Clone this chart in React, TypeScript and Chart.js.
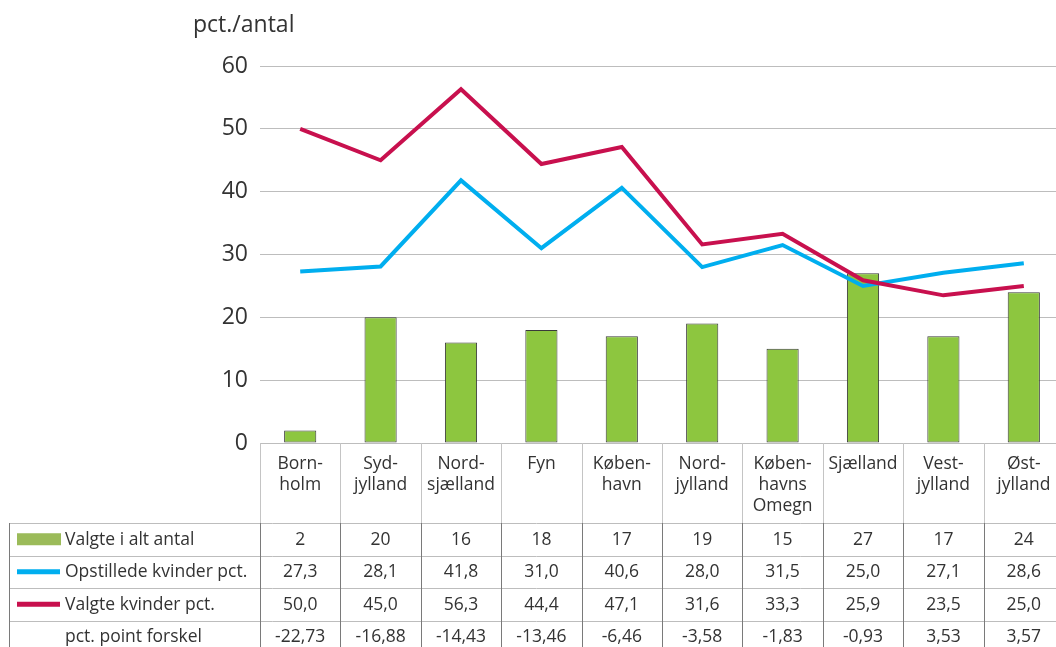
import React, { useEffect, useRef } from "react";
import { Chart, registerables } from "chart.js";

Chart.register(...registerables);

const categories = [
  "Born-\nholm",
  "Syd-\njylland",
  "Nord-\nsjælland",
  "Fyn",
  "Køben-\nhavn",
  "Nord-\njylland",
  "Køben-\nhavns\nOmegn",
  "Sjælland",
  "Vest-\njylland",
  "Øst-\njylland",
];
const valgteAntal = [2, 20, 16, 18, 17, 19, 15, 27, 17, 24];
const opstilledePct = [27.3, 28.1, 41.8, 31.0, 40.6, 28.0, 31.5, 25.0, 27.1, 28.6];
const valgtePct = [50.0, 45.0, 56.3, 44.4, 47.1, 31.6, 33.3, 25.9, 23.5, 25.0];
const forskel = [-22.73, -16.88, -14.43, -13.46, -6.46, -3.58, -1.83, -0.93, 3.53, 3.57];
const yTicks = [0, 10, 20, 30, 40, 50, 60];

const seriesNames = [
  "Valgte i alt antal",
  "Opstillede kvinder pct.",
  "Valgte kvinder pct.",
  "pct. point forskel",
];

const GREEN = "#8dc63f";
const BLUE = "#00aeef";
const RED = "#c8104e";
const TEXT = "#333333";
const FONT = "'Open Sans', sans-serif";

const fmt = (v: number, d: number) => v.toFixed(d).replace(".", ",");

const tablePlugin = {
  id: "tablePlugin",
  afterDraw(chart: any) {
    const ctx = chart.ctx as CanvasRenderingContext2D;
    const xs = chart.scales.x;
    const area = chart.chartArea;
    const n = categories.length;
    const colW = (area.right - area.left) / n;
    const top = area.bottom;
    const headerBottom = top + 80;
    const rowH = 32.5;
    const rowLines = [headerBottom, headerBottom + rowH, headerBottom + 2 * rowH, headerBottom + 3 * rowH];
    const bottom = chart.height;
    const leftX = 9;

    ctx.save();
    ctx.strokeStyle = "#bdbdbd";
    ctx.lineWidth = 1;
    rowLines.forEach((y) => {
      ctx.beginPath();
      ctx.moveTo(leftX, Math.round(y) + 0.5);
      ctx.lineTo(area.right, Math.round(y) + 0.5);
      ctx.stroke();
    });
    for (let i = 0; i <= n; i++) {
      const x = Math.round(xs.getPixelForValue(0) - colW / 2 + i * colW) + 0.5;
      ctx.strokeStyle = "#c4c4c4";
      ctx.beginPath();
      ctx.moveTo(x, top);
      ctx.lineTo(x, headerBottom);
      ctx.stroke();
      ctx.strokeStyle = "#7a7a7a";
      ctx.beginPath();
      ctx.moveTo(x, headerBottom);
      ctx.lineTo(x, bottom);
      ctx.stroke();
    }
    ctx.strokeStyle = "#7a7a7a";
    ctx.beginPath();
    ctx.moveTo(leftX + 0.5, headerBottom);
    ctx.lineTo(leftX + 0.5, bottom);
    ctx.stroke();

    ctx.fillStyle = TEXT;
    ctx.font = `17.5px ${FONT}`;
    ctx.textAlign = "center";
    ctx.textBaseline = "middle";
    categories.forEach((c, i) => {
      const cx = xs.getPixelForValue(i);
      c.split("\n").forEach((line, j) => {
        ctx.fillText(line, cx, top + 21 + j * 21);
      });
    });

    const rows = [
      valgteAntal.map((v) => String(v)),
      opstilledePct.map((v) => fmt(v, 1)),
      valgtePct.map((v) => fmt(v, 1)),
      forskel.map((v) => fmt(v, 2)),
    ];
    rows.forEach((r, ri) => {
      const cy = rowLines[ri] + rowH / 2 + 0.5;
      r.forEach((t, i) => {
        ctx.fillText(t, xs.getPixelForValue(i), cy);
      });
    });

    ctx.textAlign = "left";
    seriesNames.forEach((s, ri) => {
      const cy = rowLines[ri] + rowH / 2 + 0.5;
      ctx.fillText(s, 65, cy);
    });
    let cy = rowLines[0] + rowH / 2;
    ctx.fillStyle = "#9bbb59";
    ctx.fillRect(17, cy - 6, 44, 12);
    cy = rowLines[1] + rowH / 2;
    ctx.fillStyle = BLUE;
    ctx.fillRect(17, cy - 2.5, 43, 5);
    cy = rowLines[2] + rowH / 2;
    ctx.fillStyle = RED;
    ctx.fillRect(17, cy - 2.5, 43, 5);

    ctx.fillStyle = TEXT;
    ctx.font = `23px ${FONT}`;
    ctx.textAlign = "left";
    ctx.textBaseline = "alphabetic";
    ctx.fillText("pct./antal", 193, 32);
    ctx.restore();
  },
};

export default function App() {
  const ref = useRef<HTMLCanvasElement | null>(null);
  useEffect(() => {
    if (!ref.current) return;
    const chart = new Chart(ref.current, {
      type: "bar",
      data: {
        labels: categories,
        datasets: [
          {
            type: "line",
            label: seriesNames[2],
            data: valgtePct,
            borderColor: RED,
            backgroundColor: RED,
            borderWidth: 4,
            pointRadius: 0,
            tension: 0,
            order: 1,
          },
          {
            type: "line",
            label: seriesNames[1],
            data: opstilledePct,
            borderColor: BLUE,
            backgroundColor: BLUE,
            borderWidth: 4,
            pointRadius: 0,
            tension: 0,
            order: 2,
          },
          {
            type: "bar",
            label: seriesNames[0],
            data: valgteAntal,
            backgroundColor: GREEN,
            borderColor: "#3a3a3a",
            borderWidth: 1,
            borderSkipped: false,
            barPercentage: 0.4,
            categoryPercentage: 1,
            order: 3,
          },
        ],
      },
      options: {
        animation: false,
        responsive: false,
        maintainAspectRatio: false,
        layout: { padding: { top: 66, bottom: 204, left: 0, right: 0 } },
        plugins: {
          legend: { display: false },
          tooltip: { enabled: false },
          title: { display: false },
        },
        scales: {
          x: {
            display: false,
            offset: true,
          },
          y: {
            min: 0,
            max: 60,
            afterFit: (s: any) => {
              s.width = 260;
            },
            afterBuildTicks: (s: any) => {
              s.ticks = yTicks.map((v) => ({ value: v }));
            },
            border: { display: false },
            grid: { color: "#bdbdbd", lineWidth: 1, drawTicks: false },
            ticks: {
              padding: 12,
              color: TEXT,
              font: { family: "'Open Sans', sans-serif", size: 23 },
            },
          },
        },
      },
      plugins: [tablePlugin],
    });
    return () => chart.destroy();
  }, []);
  return (
    <div style={{ position: "fixed", left: 0, top: 0, width: 1056, height: 647, overflow: "hidden", background: "#fff" }}>
      <canvas ref={ref} width={1064} height={647} style={{ width: 1064, height: 647, display: "block" }} />
    </div>
  );
}
